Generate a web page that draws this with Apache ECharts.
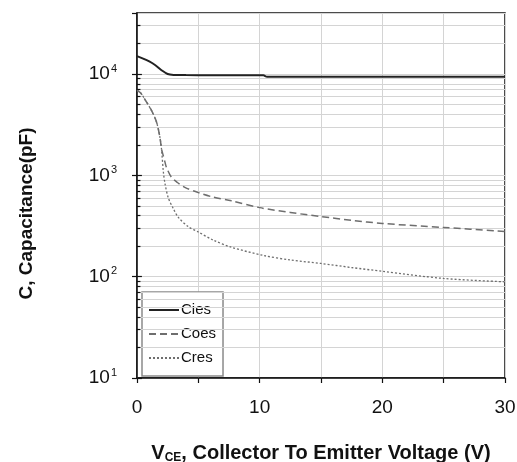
<!DOCTYPE html>
<html>
<head>
<meta charset="utf-8">
<script src="https://cdn.jsdelivr.net/npm/echarts@6/dist/echarts.min.js"></script>
<style>
html,body{margin:0;padding:0;background:#fff;}
#c{width:517px;height:462px;}
</style>
</head>
<body>
<div id="c"></div>
<script>
// ---- data ----
const seriesNames = ['Cies', 'Coes', 'Cres'];
const ciesV = [0, 0.5, 1, 1.5, 2, 2.5, 3, 4, 6, 8, 10.3, 10.6, 15, 20, 25, 30];
const ciesC = [15000, 14200, 13300, 12200, 10900, 10000, 9800, 9750, 9720, 9700, 9700, 9400, 9400, 9400, 9400, 9400];
const coesV = [0, 0.3, 0.65, 1.2, 1.6, 1.87, 2.0, 2.15, 2.28, 2.4, 2.8, 3.3, 3.9, 5, 6.2, 7.7, 10, 12.5, 15, 17.5, 20, 25, 30];
const coesC = [6900, 6500, 5600, 4330, 3330, 2370, 1820, 1550, 1350, 1200, 960, 850, 760, 675, 610, 560, 480, 430, 392, 360, 335, 306, 279];
const cresV = [0, 0.3, 0.65, 1.2, 1.6, 1.87, 2.0, 2.15, 2.28, 2.55, 2.96, 3.37, 4.2, 5, 6.2, 7.7, 10.3, 12.5, 15, 17.5, 20, 25, 30];
const cresC = [6900, 6500, 5600, 4330, 3330, 2370, 1800, 1080, 830, 600, 470, 385, 310, 276, 230, 195, 162, 146, 135, 123, 113, 96, 89];
const xTickLabels = [0, 10, 20, 30];
const yTickExponents = [1, 2, 3, 4];

const pairs = (xs, ys) => xs.map((x, i) => [x, ys[i]]);

// minor log gridline positions (2..9 per decade)
const minorVals = [];
for (let d = 10; d <= 10000; d *= 10) {
  for (let k = 2; k <= 9; k++) {
    const v = k * d;
    if (v < 40000) minorVals.push(v);
  }
}
const majorVals = [10, 100, 1000, 10000];
const gridLines = minorVals.map(v => [{coord: [0, v]}, {coord: [30, v]}]);
const tickLines = minorVals.map(v => [{coord: [0, v]}, {coord: [0.28, v]}])
  .concat(majorVals.map(v => [{coord: [0, v]}, {coord: [0.4, v]}]));

const FONT = "'Liberation Sans', Arial, sans-serif";

const chart = echarts.init(document.getElementById('c'), null, {renderer: 'canvas'});
chart.setOption({
  backgroundColor: '#fff',
  animation: false,
  grid: {
    left: 137, right: 12, top: 13, bottom: 84,
    outerBoundsMode: 'none', containLabel: false,
    show: true, borderColor: '#111', borderWidth: 1.5, backgroundColor: 'transparent'
  },
  legend: {
    data: seriesNames,
    orient: 'vertical',
    left: 142, top: 292,
    padding: [10, 7, 10, 6],
    itemGap: 8,
    itemWidth: 30,
    itemHeight: 14,
    backgroundColor: '#fff',
    borderColor: '#8a8a8a',
    borderWidth: 1.5,
    borderRadius: 0,
    itemStyle: {opacity: 0},
    textStyle: {fontFamily: FONT, fontSize: 15, color: '#111', lineHeight: 16, padding: [0, 0, 0, -3]}
  },
  xAxis: {
    type: 'value', min: 0, max: 30, interval: 5,
    axisLine: {show: true, onZero: false, lineStyle: {color: '#111', width: 1.5}},
    axisTick: {show: true, length: 5, lineStyle: {color: '#111', width: 1.2}},
    axisLabel: {
      margin: 20, fontFamily: FONT, fontSize: 19, color: '#111',
      formatter: v => (xTickLabels.indexOf(v) >= 0 ? String(v) : '')
    },
    splitLine: {show: true, lineStyle: {color: '#d4d4d4', width: 1}},
    name: '{b|V}{s|CE}{b|, Collector To Emitter Voltage (V)}',
    nameLocation: 'middle',
    nameGap: 64,
    nameTextStyle: {
      rich: {
        b: {fontFamily: FONT, fontWeight: 'bold', fontSize: 20, color: '#111', lineHeight: 22},
        s: {fontFamily: FONT, fontWeight: 'bold', fontSize: 12, color: '#111', lineHeight: 22, verticalAlign: 'bottom', padding: [6, 0, 0, 0]}
      }
    }
  },
  yAxis: {
    type: 'log', logBase: 10, min: 10, max: 40000,
    axisLine: {show: true, lineStyle: {color: '#111', width: 1.5}},
    axisTick: {show: true, length: 5, lineStyle: {color: '#111', width: 1.2}},
    axisLabel: {
      margin: 20,
      formatter: function (v) {
        const e = Math.round(Math.log10(v));
        if (yTickExponents.indexOf(e) < 0 || Math.abs(v - Math.pow(10, e)) > 1e-6 * v) return '';
        return '{b|10}{s|' + e + '}';
      },
      rich: {
        b: {fontFamily: FONT, fontSize: 19, color: '#111', lineHeight: 22},
        s: {fontFamily: FONT, fontSize: 11, color: '#111', lineHeight: 22, verticalAlign: 'top', padding: [0, 0, 13, 1]}
      }
    },
    splitLine: {show: true, lineStyle: {color: '#d4d4d4', width: 1}},
    name: 'C, Capacitance(pF)',
    nameLocation: 'middle',
    nameGap: 101,
    nameTextStyle: {fontFamily: FONT, fontWeight: 'bold', fontSize: 19, color: '#111', padding: [0, 36, 0, 0]}
  },
  series: [
    {
      name: 'grid-minor', type: 'line', data: [], z: 1, silent: true,
      markLine: {
        silent: true, symbol: 'none', animation: false,
        label: {show: false},
        lineStyle: {color: '#d4d4d4', width: 1, type: 'solid'},
        data: gridLines
      }
    },
    {
      name: 'tick-minor', type: 'line', data: [], z: 1, silent: true,
      markLine: {
        silent: true, symbol: 'none', animation: false,
        label: {show: false},
        lineStyle: {color: '#111', width: 1.2, type: 'solid'},
        data: tickLines
      }
    },
    {
      name: 'Cies', type: 'line', data: pairs(ciesV, ciesC), z: 10,
      showSymbol: false, symbol: 'none', smooth: 0.3,
      lineStyle: {color: '#222', width: 2}, itemStyle: {color: '#222'}
    },
    {
      name: 'Coes', type: 'line', data: pairs(coesV, coesC), z: 10,
      showSymbol: false, symbol: 'none', smooth: 0.3,
      lineStyle: {color: '#6e6e6e', width: 1.5, type: [7, 4]}, itemStyle: {color: '#6e6e6e'}
    },
    {
      name: 'Cres', type: 'line', data: pairs(cresV, cresC), z: 10,
      showSymbol: false, symbol: 'none', smooth: 0.3,
      lineStyle: {color: '#6e6e6e', width: 1.3, type: [2, 2]}, itemStyle: {color: '#6e6e6e'}
    }
  ]
});
</script>
</body>
</html>
